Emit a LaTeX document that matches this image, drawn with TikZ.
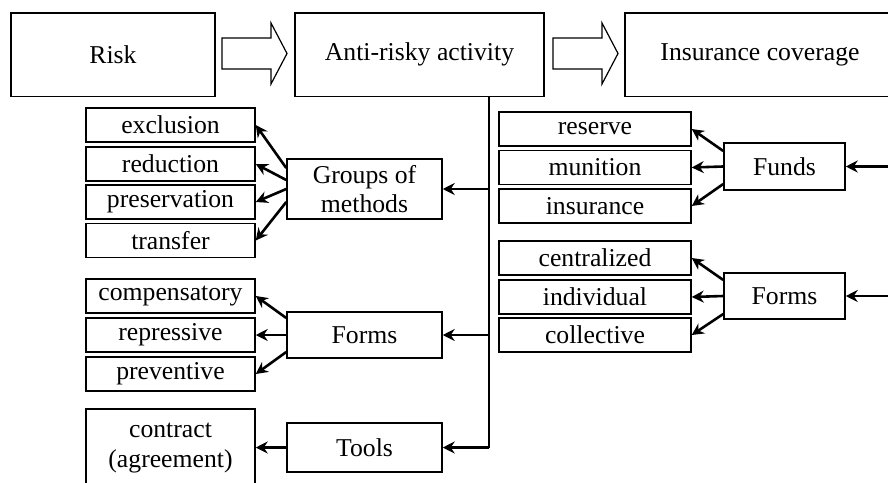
\documentclass[tikz,border=0pt]{standalone}
\usepackage{fontspec}
\setmainfont{Liberation Serif}
\usetikzlibrary{arrows.meta,calc}

\tikzset{
  box/.style={draw, line width=0.75pt, inner sep=0pt, align=center, font=\fontsize{12.85}{14.7}\selectfont},
  top/.style={box, minimum height=41.75pt},
  item/.style={box, minimum width=84.5pt, minimum height=17pt},
  ritem/.style={box, minimum width=96pt, minimum height=17pt},
  mid/.style={box, minimum width=77.5pt},
  rmid/.style={box, minimum width=60.5pt},
  arr/.style={line width=1.3pt, -{Stealth[length=6pt,width=6pt,inset=2pt]}},
  fat/.style={draw, line width=0.6pt, fill=white}
}

\begin{document}
\begin{tikzpicture}[x=0.5pt,y=-0.5pt]
\clip (0,0) rectangle (888,482);

\node[top, minimum width=102pt] (risk) at (113,54.5) {Risk};
\node[top, minimum width=124.5pt] (anti) at (419.5,54.5) {Anti-risky activity};
\node[top, minimum width=135pt] (cover) at (760,54.5) {Insurance coverage};
\foreach \a in {222,553}
  \draw[fat] (\a,38) -- ++(49,0) -- ++(0,-15) -- ++(16,30.5) -- ++(-16,30.5) -- ++(0,-15) -- ++(-49,0) -- cycle;

\node[item] (excl) at (170.5,125) {exclusion};
\node[item] (redu) at (170.5,164) {reduction};
\node[item] (pres) at (170.5,202) {preservation};
\node[item] (tran) at (170.5,240.5) {transfer};
\node[item] (comp) at (170.5,296) {compensatory};
\node[item] (repr) at (170.5,335) {repressive};
\node[item] (prev) at (170.5,374) {preventive};
\node[item, minimum height=39pt] (contr) at (170.5,448) {contract\\(agreement)};

\node[mid, minimum height=30pt] (groups) at (364.5,189) {Groups of\\methods};
\node[mid, minimum height=23pt] (lforms) at (364.5,335) {Forms};
\node[mid, minimum height=24.5pt] (tools) at (364.5,447.5) {Tools};

\node[ritem] (rese) at (595,129) {reserve};
\node[ritem] (muni) at (595,167.5) {munition};
\node[ritem] (insu) at (595,206) {insurance};
\node[ritem] (cent) at (595,258) {centralized};
\node[ritem] (indi) at (595,297) {individual};
\node[ritem] (coll) at (595,335) {collective};

\node[rmid, minimum height=23.5pt] (funds) at (784.5,166.5) {Funds};
\node[rmid, minimum height=23pt] (rforms) at (784.5,296) {Forms};

\coordinate (spine) at (489,96);
\coordinate (edge) at (895,0);
\draw[line width=0.75pt] (spine) -- (spine |- tools.east);
\draw[arr] (spine |- groups.east) -- (groups.east);
\draw[arr] (spine |- lforms.east) -- (lforms.east);
\draw[arr] (spine |- tools.east) -- (tools.east);
\draw[arr] (edge |- funds.east) -- (funds.east);
\draw[arr] (edge |- rforms.east) -- (rforms.east);

\draw[arr] ($(groups.west)+(0,-21)$) -- (excl.east);
\draw[arr] ($(groups.west)+(0,-9)$) -- (redu.east);
\draw[arr] (groups.west) -- (pres.east);
\draw[arr] ($(groups.west)+(0,13)$) -- (tran.east);

\draw[arr] ($(lforms.west)+(0,-17)$) -- (comp.east);
\draw[arr] (lforms.west) -- (repr.east);
\draw[arr] ($(lforms.west)+(0,17)$) -- (prev.east);
\draw[arr] (tools.west) -- (tools.west -| contr.east);

\draw[arr] ($(funds.west)+(0,-15.5)$) -- (rese.east);
\draw[arr] (funds.west) -- (muni.east);
\draw[arr] ($(funds.west)+(0,17.5)$) -- (insu.east);

\draw[arr] ($(rforms.west)+(0,-16)$) -- (cent.east);
\draw[arr] (rforms.west) -- (indi.east);
\draw[arr] ($(rforms.west)+(0,18)$) -- (coll.east);
\end{tikzpicture}
\end{document}
